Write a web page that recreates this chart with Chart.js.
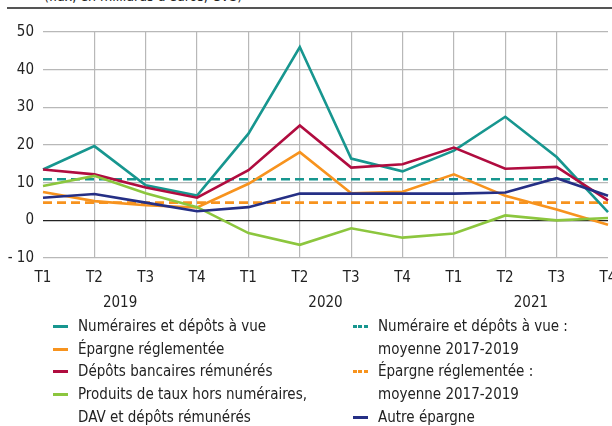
<!DOCTYPE html>
<html><head><meta charset="utf-8">
<script src="https://cdn.jsdelivr.net/npm/chart.js@4"></script>
<style>
html,body{margin:0;padding:0;width:612px;height:426px;overflow:hidden;background:#fff;}
body{position:relative;font-family:"Liberation Sans Narrow","DejaVu Sans Condensed","Open Sans",sans-serif;color:#222;}
#wrap{position:absolute;left:0;top:0;width:640px;height:426px;}
#sub{position:absolute;left:44px;top:-12px;font-size:14px;white-space:nowrap;color:#222;}
#rule{position:absolute;left:7px;top:7px;width:605px;height:1.5px;background:#555;}
.leg{position:absolute;font-size:15px;line-height:22.7px;}
.row{position:relative;padding-left:25px;white-space:nowrap;}
.sw{position:absolute;left:0;top:10px;width:15px;height:3px;}
.dash{position:absolute;left:0;top:10px;width:15px;height:3px;}
</style></head>
<body>
<div id="sub">(flux, en milliards d'euros, CVS)</div>
<div id="rule"></div>
<div id="wrap"><canvas id="c" width="640" height="426"></canvas></div>
<div class="leg" id="legL" style="left:53px;top:315px;"></div>
<div class="leg" id="legR" style="left:353px;top:315px;"></div>
<script>
const quarters = ["T1","T2","T3","T4","T1","T2","T3","T4","T1","T2","T3","T4"];
const years = ["2019","2020","2021"];
const yTicks = [-10,0,10,20,30,40,50];

const numeraires = [13.5,19.7,9.3,6.6,23,46,16.4,13,18.5,27.5,16.8,2.2];
const epargneReg = [7.5,5.1,4,3.4,9.7,18.1,7.2,7.6,12.2,6.5,2.9,-1.2];
const depotsRem = [13.5,12.2,8.7,6,13.3,25.2,14,14.9,19.3,13.7,14.2,5.3];
const produitsTaux = [9.1,11.8,7.2,3.5,-3.4,-6.5,-2.1,-4.6,-3.5,1.3,0,0.6];
const autreEpargne = [6,7,4.7,2.4,3.5,7.1,7.1,7.1,7.1,7.4,11.2,6.5];
const moyNumeraires = Array(12).fill(10.9);
const moyEpargneReg = Array(12).fill(4.7);

const C = {teal:"#17968f", orange:"#f7931e", red:"#b00c3f", green:"#8cc63e", navy:"#252f85"};
const FONT = '"Liberation Sans Narrow","DejaVu Sans Condensed","Open Sans",sans-serif';

function ds(label, data, color, dash){
  return {label, data, borderColor:color, backgroundColor:color, borderWidth:2.6,
    borderDash: dash? [9,5]:[], pointRadius:0, tension:0, fill:false};
}

const yearPlugin = {
  id:'years',
  afterDraw(chart){
    const ctx = chart.ctx, x = chart.scales.x;
    ctx.save();
    ctx.font = '15px '+FONT;
    ctx.fillStyle = '#222';
    ctx.textAlign = 'center';
    ctx.textBaseline = 'middle';
    years.forEach((y,i)=>{
      const px = (x.getPixelForValue(i*4+1)+x.getPixelForValue(i*4+2))/2;
      ctx.fillText(y, px, 303);
    });
    ctx.restore();
  }
};

new Chart(document.getElementById('c'), {
  type:'line',
  data:{labels:quarters, datasets:[
    ds("Autre épargne", autreEpargne, C.navy),
    ds("Produits de taux", produitsTaux, C.green),
    ds("Épargne réglementée", epargneReg, C.orange),
    ds("Dépôts bancaires rémunérés", depotsRem, C.red),
    ds("Numéraires et dépôts à vue", numeraires, C.teal),
    ds("Moy num", moyNumeraires, C.teal, true),
    ds("Moy ep", moyEpargneReg, C.orange, true)
  ]},
  options:{
    responsive:false, animation:false, events:[],
    layout:{padding:{top:32,right:32,left:0,bottom:0}},
    plugins:{legend:{display:false}, tooltip:{enabled:false}},
    scales:{
      x:{
        offset:false,
        border:{display:false},
        grid:{drawTicks:false, color:(c)=> (c.index===0||c.index===11)?'rgba(0,0,0,0)':'#b8b8b8', lineWidth:1.2},
        ticks:{padding:11, color:'#222', font:{family:FONT,size:15}, maxRotation:0, autoSkip:false},
        afterFit(s){ s.height = 168; }
      },
      y:{
        min:-10, max:50,
        afterBuildTicks(s){ s.ticks = yTicks.map(v=>({value:v})); },
        border:{display:false},
        grid:{drawTicks:false, color:(c)=> c.tick && c.tick.value===0 ? '#222' : '#b8b8b8', lineWidth:1.2},
        ticks:{padding:9, color:'#222', font:{family:FONT,size:15},
          callback:(v)=> v<0 ? '- '+(-v) : String(v)},
        afterFit(s){ s.width = 43; }
      }
    }
  },
  plugins:[yearPlugin]
});

const legL = [
  ["Numéraires et dépôts à vue", C.teal, false],
  ["Épargne réglementée", C.orange, false],
  ["Dépôts bancaires rémunérés", C.red, false],
  ["Produits de taux hors numéraires,", C.green, false],
  ["DAV et dépôts rémunérés", null, false]
];
const legR = [
  ["Numéraire et dépôts à vue :", C.teal, true],
  ["moyenne 2017-2019", null, false],
  ["Épargne réglementée :", C.orange, true],
  ["moyenne 2017-2019", null, false],
  ["Autre épargne", C.navy, false]
];
function build(el, items){
  items.forEach(([t,col,dash])=>{
    const r = document.createElement('div'); r.className='row';
    if(col){
      const s = document.createElement('span');
      s.className = dash ? 'dash' : 'sw';
      s.style.background = dash ? `repeating-linear-gradient(90deg, ${col} 0 4px, transparent 4px 5.5px)` : col;
      r.appendChild(s);
    }
    r.appendChild(document.createTextNode(t));
    el.appendChild(r);
  });
}
build(document.getElementById('legL'), legL);
build(document.getElementById('legR'), legR);
</script>
</body></html>
